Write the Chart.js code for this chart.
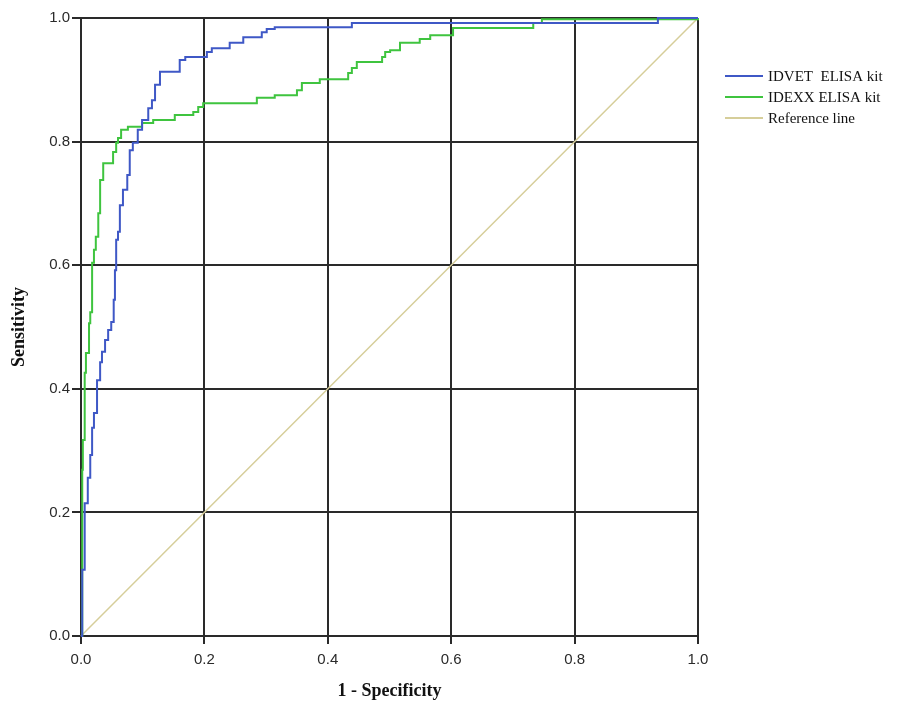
<!DOCTYPE html>
<html>
<head>
<meta charset="utf-8">
<script src="https://cdn.jsdelivr.net/npm/chart.js@4/dist/chart.umd.min.js"></script>
<style>
  html, body { margin: 0; padding: 0; background: #fff; }
  #wrap { width: 921px; height: 706px; }
</style>
</head>
<body>
<div id="wrap"><canvas id="roc" width="921" height="706"></canvas></div>
<script>
// ROC curve vertices (1 - specificity, sensitivity)
const idvetFpr = [0, 0.002, 0.006, 0.011, 0.015, 0.018, 0.021, 0.026, 0.031, 0.034, 0.039, 0.044, 0.049, 0.053, 0.055, 0.057, 0.060, 0.063, 0.068, 0.075, 0.079, 0.084, 0.092, 0.099, 0.109, 0.115, 0.120, 0.128, 0.160, 0.169, 0.204, 0.212, 0.241, 0.263, 0.293, 0.301, 0.314, 0.439, 0.935, 1.0];
const idvetTpr = [0, 0.107, 0.215, 0.256, 0.293, 0.337, 0.361, 0.414, 0.443, 0.460, 0.479, 0.495, 0.508, 0.544, 0.592, 0.641, 0.654, 0.697, 0.722, 0.746, 0.786, 0.798, 0.819, 0.835, 0.854, 0.867, 0.892, 0.913, 0.932, 0.937, 0.945, 0.951, 0.960, 0.969, 0.977, 0.982, 0.985, 0.992, 1.0, 1.0];

const idexxFpr = [0, 0.002, 0.003, 0.006, 0.008, 0.013, 0.015, 0.018, 0.021, 0.024, 0.028, 0.031, 0.036, 0.052, 0.057, 0.060, 0.065, 0.076, 0.099, 0.117, 0.152, 0.182, 0.190, 0.198, 0.285, 0.314, 0.350, 0.358, 0.387, 0.433, 0.439, 0.447, 0.488, 0.493, 0.501, 0.517, 0.549, 0.566, 0.603, 0.733, 0.747, 1.0];
const idexxTpr = [0, 0.269, 0.317, 0.426, 0.458, 0.506, 0.524, 0.604, 0.625, 0.646, 0.684, 0.738, 0.765, 0.783, 0.798, 0.806, 0.819, 0.824, 0.830, 0.835, 0.843, 0.848, 0.856, 0.862, 0.871, 0.875, 0.883, 0.895, 0.901, 0.911, 0.919, 0.929, 0.937, 0.945, 0.948, 0.960, 0.966, 0.972, 0.984, 0.992, 0.998, 1.0];

const refX = [0, 1];
const refY = [0, 1];

const seriesLabels = ['IDVET  ELISA kit', 'IDEXX ELISA kit', 'Reference line'];
const tickValues = [0, 0.2, 0.4, 0.6, 0.8, 1.0];

const toPoints = (xs, ys) => xs.map((x, i) => ({ x: x, y: ys[i] }));

// legend drawn by hand on the right side, like the original
const sideLegend = {
  id: 'sideLegend',
  afterDraw(chart) {
    const ctx = chart.ctx;
    const rows = [76, 97, 118];
    ctx.save();
    ctx.font = '15px "Liberation Serif", "DejaVu Serif", serif';
    ctx.textBaseline = 'middle';
    chart.data.datasets.forEach((ds, i) => {
      ctx.strokeStyle = ds.borderColor;
      ctx.lineWidth = 2;
      ctx.beginPath();
      ctx.moveTo(725, rows[i]);
      ctx.lineTo(763, rows[i]);
      ctx.stroke();
      ctx.fillStyle = '#111';
      ctx.fillText(ds.label, 768, rows[i] + 1);
    });
    ctx.restore();
  }
};

const ctx = document.getElementById('roc').getContext('2d');
new Chart(ctx, {
  type: 'line',
  data: {
    datasets: [
      {
        label: seriesLabels[0],
        data: toPoints(idvetFpr, idvetTpr),
        borderColor: '#3f58c6',
        borderWidth: 2,
        stepped: 'before',
        pointRadius: 0,
        clip: 4
      },
      {
        label: seriesLabels[1],
        data: toPoints(idexxFpr, idexxTpr),
        borderColor: '#3fc43f',
        borderWidth: 2,
        stepped: 'before',
        pointRadius: 0,
        clip: 4
      },
      {
        label: seriesLabels[2],
        data: toPoints(refX, refY),
        borderColor: '#d6ce9a',
        borderWidth: 1.5,
        pointRadius: 0,
        clip: 4
      }
    ]
  },
  options: {
    responsive: false,
    animation: false,
    layout: { padding: { top: 18, right: 223, left: 0, bottom: 0 } },
    plugins: {
      legend: { display: false },
      tooltip: { enabled: false }
    },
    scales: {
      x: {
        type: 'linear',
        min: 0,
        max: 1,
        afterFit: (scale) => { scale.height = 70; },
        afterBuildTicks: (scale) => { scale.ticks = tickValues.map(v => ({ value: v })); },
        grid: { color: '#2a2a2a', lineWidth: 2, tickLength: 8 },
        border: { color: '#2a2a2a', width: 2 },
        ticks: {
          padding: 7,
          color: '#2a2a2a',
          font: { family: '"Liberation Sans", Arial, sans-serif', size: 15 },
          callback: (v) => v.toFixed(1)
        },
        title: {
          display: true,
          text: '1 - Specificity',
          color: '#111',
          padding: { top: 4, bottom: 4 },
          font: { family: '"Liberation Serif", "DejaVu Serif", serif', size: 18, weight: 'bold' }
        }
      },
      y: {
        type: 'linear',
        min: 0,
        max: 1,
        afterFit: (scale) => { scale.width = 81; },
        afterBuildTicks: (scale) => { scale.ticks = tickValues.map(v => ({ value: v })); },
        grid: { color: '#2a2a2a', lineWidth: 2, tickLength: 9 },
        border: { color: '#2a2a2a', width: 2 },
        ticks: {
          padding: 2,
          color: '#2a2a2a',
          font: { family: '"Liberation Sans", Arial, sans-serif', size: 15 },
          callback: (v) => v.toFixed(1)
        },
        title: {
          display: true,
          text: 'Sensitivity',
          color: '#111',
          padding: { top: 9, bottom: 9 },
          font: { family: '"Liberation Serif", "DejaVu Serif", serif', size: 18, weight: 'bold' }
        }
      }
    }
  },
  plugins: [sideLegend]
});
</script>
</body>
</html>
